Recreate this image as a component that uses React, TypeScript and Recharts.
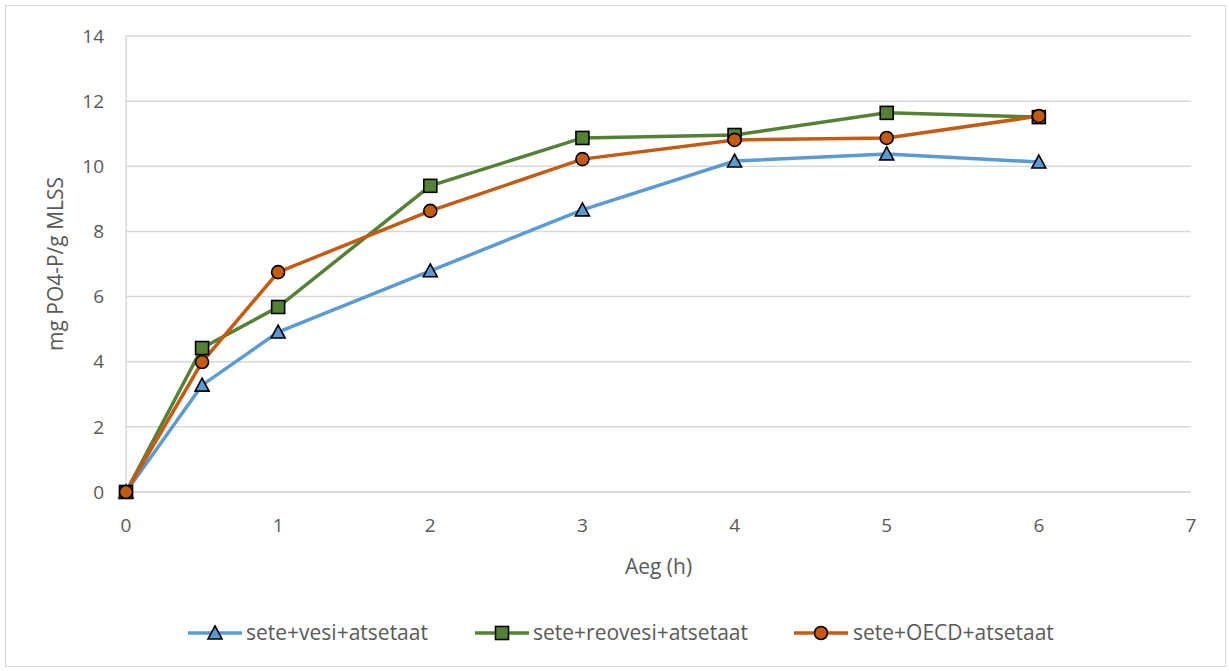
import { LineChart, Line, XAxis, YAxis, CartesianGrid, Label } from 'recharts'

// time points (h) and measured phosphate release per series
const hours = [0, 0.5, 1, 2, 3, 4, 5, 6]
const veeSeries = [0, 3.28, 4.91, 6.79, 8.66, 10.16, 10.38, 10.13]
const reoveeSeries = [0, 4.42, 5.68, 9.4, 10.87, 10.96, 11.64, 11.51]
const oecdSeries = [0, 3.99, 6.75, 8.63, 10.22, 10.81, 10.87, 11.54]

const xTicks = [0, 1, 2, 3, 4, 5, 6, 7]
const yTicks = [0, 2, 4, 6, 8, 10, 12, 14]

const seriesNames = ['sete+vesi+atsetaat', 'sete+reovesi+atsetaat', 'sete+OECD+atsetaat']
const seriesColors = ['#5B9BD5', '#548235', '#C55A11']
const seriesMarkers = ['triangle', 'square', 'circle'] as const

const data = hours.map((h, i) => ({
  h,
  a: veeSeries[i],
  b: reoveeSeries[i],
  c: oecdSeries[i],
}))

const FONT = '"Open Sans", "Noto Sans", sans-serif'
const TEXT = '#595959'
const GRID = '#d9d9d9'

function Marker({ kind, cx, cy, fill }: { kind: string; cx: number; cy: number; fill: string }) {
  if (kind === 'triangle') {
    const s = 7
    return (
      <path
        d={`M${cx},${cy - s} L${cx + s},${cy + s * 0.85} L${cx - s},${cy + s * 0.85} Z`}
        fill={fill}
        stroke="#000"
        strokeWidth={1.6}
        strokeLinejoin="miter"
      />
    )
  }
  if (kind === 'square') {
    const s = 6.5
    return <rect x={cx - s} y={cy - s} width={s * 2} height={s * 2} fill={fill} stroke="#000" strokeWidth={1.6} />
  }
  return <circle cx={cx} cy={cy} r={6.5} fill={fill} stroke="#000" strokeWidth={1.6} />
}

const makeDot = (i: number) => (props: any) => {
  const { cx, cy, index } = props
  if (cx == null || cy == null) return <g key={index} />
  return (
    <g key={index}>
      <Marker kind={seriesMarkers[i]} cx={cx} cy={cy} fill={seriesColors[i]} />
    </g>
  )
}

// legend drawn below the plot, one swatch + label per series
function ChartLegend() {
  const items = [
    { x: 188, tx: 246 },
    { x: 475, tx: 533 },
    { x: 794, tx: 853 },
  ]
  return (
    <svg width={1229} height={36} style={{ position: 'absolute', left: 0, top: 615, display: 'block' }}>
      {items.map((it, i) => (
        <g key={seriesNames[i]}>
          <line x1={it.x} x2={it.x + 54} y1={18} y2={18} stroke={seriesColors[i]} strokeWidth={3.5} />
          <Marker kind={seriesMarkers[i]} cx={it.x + 27} cy={18} fill={seriesColors[i]} />
          <text x={it.tx} y={18} dy="0.35em" fontSize={21} fill={TEXT} fontFamily={FONT}>
            {seriesNames[i]}
          </text>
        </g>
      ))}
    </svg>
  )
}

export default function App() {
  return (
    <div style={{ position: 'fixed', left: 0, top: 0, width: 1229, height: 671, background: '#fff' }}>
      <div
        style={{
          position: 'absolute',
          left: 5,
          top: 5,
          width: 1219,
          height: 660,
          border: `1px solid ${GRID}`,
        }}
      />
      <LineChart
        width={1229}
        height={671}
        data={data}
        margin={{ top: 36, right: 38, left: 40, bottom: 149 }}
        style={{ position: 'absolute', left: 0, top: 0 }}
      >
        <CartesianGrid vertical={false} stroke={GRID} strokeWidth={1.5} />
        <XAxis
          dataKey="h"
          type="number"
          domain={[0, 7]}
          ticks={xTicks}
          height={30}
          tickSize={0}
          tickMargin={27}
          axisLine={{ stroke: GRID, strokeWidth: 1.5 }}
          tickLine={false}
          tick={{ fontSize: 19, fill: TEXT, fontFamily: FONT }}
        >
          <Label
            value="Aeg (h)"
            position="insideBottom"
            offset={-52}
            style={{ fontSize: 21, fill: TEXT, fontFamily: FONT }}
          />
        </XAxis>
        <YAxis
          type="number"
          domain={[0, 14]}
          ticks={yTicks}
          width={86}
          tickSize={0}
          tickMargin={22}
          axisLine={{ stroke: GRID, strokeWidth: 1.5 }}
          tickLine={false}
          tick={{ fontSize: 19, fill: TEXT, fontFamily: FONT }}
        >
          <Label
            value="mg PO4-P/g MLSS"
            angle={-90}
            position="insideLeft"
            offset={16}
            style={{ fontSize: 21, fill: TEXT, fontFamily: FONT, textAnchor: 'middle' }}
          />
        </YAxis>
        <Line
          dataKey="a"
          name={seriesNames[0]}
          stroke={seriesColors[0]}
          strokeWidth={3.5}
          dot={makeDot(0)}
          activeDot={false}
          isAnimationActive={false}
        />
        <Line
          dataKey="b"
          name={seriesNames[1]}
          stroke={seriesColors[1]}
          strokeWidth={3.5}
          dot={makeDot(1)}
          activeDot={false}
          isAnimationActive={false}
        />
        <Line
          dataKey="c"
          name={seriesNames[2]}
          stroke={seriesColors[2]}
          strokeWidth={3.5}
          dot={makeDot(2)}
          activeDot={false}
          isAnimationActive={false}
        />
      </LineChart>
      <ChartLegend />
    </div>
  )
}
